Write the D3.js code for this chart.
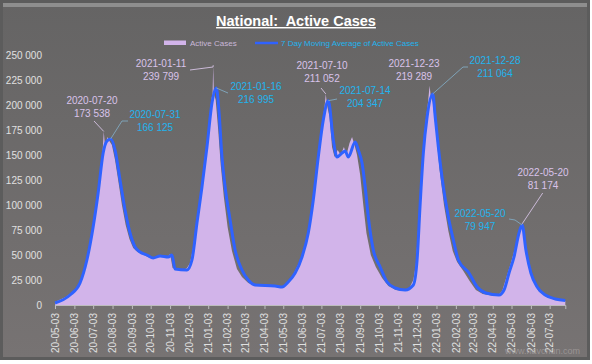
<!DOCTYPE html>
<html>
<head>
<meta charset="utf-8">
<script src="https://cdn.jsdelivr.net/npm/d3@7"></script>
<style>
  body { margin: 0; background: #fff; }
  text { font-family: "Liberation Sans", Arial, sans-serif; }
</style>
</head>
<body>
<div id="chart"></div>
<script>
// active cases (date, value)
var activeDates = ["2020-05-03","2020-05-20","2020-06-05","2020-06-15","2020-06-25","2020-07-03","2020-07-10","2020-07-15","2020-07-18","2020-07-20","2020-07-22","2020-07-26","2020-07-29","2020-08-02","2020-08-07","2020-08-12","2020-08-18","2020-08-24","2020-08-30","2020-09-05","2020-09-12","2020-09-20","2020-09-28","2020-10-06","2020-10-14","2020-10-22","2020-10-29","2020-11-03","2020-11-07","2020-11-15","2020-11-25","2020-11-30","2020-12-05","2020-12-10","2020-12-16","2020-12-22","2020-12-28","2021-01-03","2021-01-08","2021-01-10","2021-01-11","2021-01-12","2021-01-15","2021-01-19","2021-01-23","2021-01-28","2021-02-03","2021-02-10","2021-02-18","2021-02-26","2021-03-08","2021-03-20","2021-04-05","2021-04-20","2021-04-30","2021-05-08","2021-05-18","2021-05-28","2021-06-05","2021-06-12","2021-06-18","2021-06-25","2021-07-01","2021-07-05","2021-07-08","2021-07-10","2021-07-12","2021-07-16","2021-07-20","2021-07-24","2021-07-29","2021-08-03","2021-08-08","2021-08-12","2021-08-17","2021-08-21","2021-08-25","2021-08-29","2021-09-03","2021-09-08","2021-09-13","2021-09-20","2021-09-28","2021-10-08","2021-10-18","2021-10-30","2021-11-10","2021-11-20","2021-11-27","2021-12-01","2021-12-05","2021-12-10","2021-12-16","2021-12-20","2021-12-23","2021-12-25","2021-12-28","2022-01-02","2022-01-08","2022-01-15","2022-01-22","2022-01-29","2022-02-05","2022-02-15","2022-02-25","2022-03-07","2022-03-18","2022-04-01","2022-04-12","2022-04-18","2022-04-25","2022-05-02","2022-05-10","2022-05-16","2022-05-20","2022-05-24","2022-05-30","2022-06-06","2022-06-15","2022-06-28","2022-07-12","2022-07-28"]
var activeValues = [3000,8000,15000,27000,52000,82000,112000,138000,152000,173538,158000,168000,164000,160000,145000,125000,100000,80000,66000,57000,53000,51000,48000,47000,49000,50000,47000,51000,37000,35000,35000,37000,42000,58000,88000,112000,145000,172000,205000,212000,239799,212000,205000,175000,140000,108000,78000,54000,36000,28000,22000,19000,20000,19000,17000,22000,29000,42000,55000,75000,98000,135000,168000,185000,198000,211052,200000,188000,158000,148000,155000,150000,158000,150000,162000,168000,160000,150000,130000,100000,72000,50000,38000,27000,19000,15000,14000,16000,25000,40000,80000,135000,180000,200000,219289,208000,203000,175000,135000,100000,74000,54000,43000,34000,24000,15000,11000,9500,10000,14000,28000,42000,60000,76000,81174,65000,42000,25000,14000,8000,5000,4000]

// 7 day moving average
var maDates = ["2020-05-03","2020-05-27","2020-06-12","2020-06-23","2020-07-03","2020-07-11","2020-07-19","2020-07-25","2020-07-31","2020-08-07","2020-08-15","2020-08-23","2020-08-31","2020-09-08","2020-09-16","2020-09-27","2020-10-07","2020-10-18","2020-10-31","2020-11-06","2020-11-11","2020-11-30","2020-12-08","2020-12-16","2020-12-24","2021-01-01","2021-01-09","2021-01-16","2021-01-20","2021-01-25","2021-01-30","2021-02-07","2021-02-15","2021-02-26","2021-03-08","2021-03-19","2021-04-20","2021-05-01","2021-05-11","2021-05-22","2021-06-02","2021-06-12","2021-06-20","2021-06-28","2021-07-06","2021-07-14","2021-07-22","2021-07-28","2021-08-05","2021-08-10","2021-08-15","2021-08-26","2021-08-31","2021-09-06","2021-09-11","2021-09-16","2021-09-24","2021-10-05","2021-10-16","2021-10-29","2021-11-14","2021-11-27","2021-12-03","2021-12-08","2021-12-13","2021-12-19","2021-12-28","2022-01-01","2022-01-06","2022-01-14","2022-01-22","2022-01-30","2022-02-07","2022-02-24","2022-03-09","2022-03-23","2022-04-13","2022-04-21","2022-04-29","2022-05-07","2022-05-15","2022-05-20","2022-05-26","2022-06-03","2022-06-13","2022-06-26","2022-07-12","2022-07-28"]
var maValues = [2000,10000,22000,45000,78000,112000,152000,164000,166125,155000,125000,95000,72000,58000,53000,50000,47000,49000,48000,50000,36000,35000,45000,82000,118000,158000,202000,216995,195000,148000,118000,85000,55000,35000,25000,20000,19000,18000,23000,32000,48000,72000,105000,148000,185000,204347,165000,148000,152000,154000,148000,163000,155000,142000,118000,88000,55000,38000,23000,17000,15000,20000,45000,102000,152000,188000,211064,188000,158000,118000,88000,65000,45000,32000,18000,12000,10000,15000,32000,48000,72000,79947,55000,32000,18000,10000,6000,4500]

var yTicks = [0,25000,50000,75000,100000,125000,150000,175000,200000,225000,250000]

// labelled peaks: which series, which date
var notes = [
  { series: "active", date: "2020-07-20" },
  { series: "ma", date: "2020-07-31" },
  { series: "active", date: "2021-01-11" },
  { series: "ma", date: "2021-01-16" },
  { series: "active", date: "2021-07-10" },
  { series: "ma", date: "2021-07-14" },
  { series: "active", date: "2021-12-23" },
  { series: "ma", date: "2021-12-28" },
  { series: "active", date: "2022-05-20" },
  { series: "ma", date: "2022-05-20" }
]
// label placement (centre x, first line y, leader points)
var noteLayout = [
  { x: 92, y: 100, leader: [[94, 121]] },
  { x: 155, y: 114, leader: [[128, 121], [122, 121]] },
  { x: 161, y: 63, leader: [[190, 70], [213, 67]] },
  { x: 256, y: 86, leader: [[228, 93]] },
  { x: 322, y: 65, leader: [[321, 88]] },
  { x: 365, y: 90, leader: [[337, 99], [332, 100]] },
  { x: 414, y: 63, leader: null },
  { x: 495, y: 60, leader: [[468, 67], [463, 67]] },
  { x: 543, y: 172, leader: [[542.7, 193]] },
  { x: 480, y: 213, leader: [[509, 219], [515, 220]] }
]

var W = 592, H = 364
var areaColor = "#d2b4ea", lineColor = "#2f62ff"
var activeText = "#d9c3ea", maText = "#1fb4ee"

var parse = d3.timeParse("%Y-%m-%d")
var active = activeDates.map(function(d, i){ return { date: parse(d), value: activeValues[i] } })
var ma = maDates.map(function(d, i){ return { date: parse(d), value: maValues[i] } })

var loc = d3.formatLocale({ decimal: ".", thousands: " ", grouping: [3], currency: ["", ""] })
var fmt = loc.format(",")

var svg = d3.select("#chart").append("svg")
  .attr("width", W).attr("height", H)

var defs = svg.append("defs")
var grad = defs.append("linearGradient").attr("id", "bg")
  .attr("x1", 0).attr("y1", 0).attr("x2", 0).attr("y2", 1)
grad.append("stop").attr("offset", "0%").attr("stop-color", "#656464")
grad.append("stop").attr("offset", "100%").attr("stop-color", "#777373")

// frame
svg.append("rect").attr("x", 0).attr("y", 0).attr("width", 590).attr("height", 360).attr("fill", "#5c5c5c")
svg.append("rect").attr("x", 3).attr("y", 3).attr("width", 584).attr("height", 354).attr("fill", "url(#bg)")
svg.append("rect").attr("x", 3).attr("y", 3).attr("width", 584).attr("height", 4).attr("fill", "#8e8e8e")

var x = d3.scaleTime()
  .domain([parse("2020-05-03"), parse("2022-07-28")])
  .range([55, 565.3])
var y = d3.scaleLinear().domain([0, 250000]).range([305, 55])

// title
svg.append("text")
  .attr("x", 296).attr("y", 26)
  .attr("text-anchor", "middle")
  .attr("fill", "#ffffff")
  .style("font-size", "14.5px").style("font-weight", "bold")
  .style("text-decoration", "underline")
  .style("white-space", "pre")
  .text("National:  Active Cases")

// legend
svg.append("rect").attr("x", 164).attr("y", 40.5).attr("width", 22).attr("height", 4.5).attr("fill", areaColor)
svg.append("text").attr("x", 190).attr("y", 45.5).attr("fill", "#c9b8d8")
  .style("font-size", "8px").text("Active Cases")
svg.append("line").attr("x1", 255).attr("x2", 278).attr("y1", 43).attr("y2", 43)
  .attr("stroke", lineColor).attr("stroke-width", 2.5)
svg.append("text").attr("x", 281).attr("y", 45.5).attr("fill", maText)
  .style("font-size", "8px").text("7 Day Moving Average of Active Cases")

// y axis labels only
var yAxis = svg.append("g")
  .attr("transform", "translate(45,0)")
  .call(d3.axisLeft(y).tickValues(yTicks).tickFormat(fmt).tickSize(0).tickPadding(3))
yAxis.select(".domain").remove()
yAxis.selectAll("text").attr("fill", "#e0e0e0").style("font-size", "10px").style("font-family", "Liberation Sans, Arial, sans-serif")

// x axis, monthly ticks on the 3rd
var xTicks = d3.timeMonth.range(parse("2020-05-01"), parse("2022-08-01")).map(function(d){ return d3.timeDay.offset(d, 2) })
var xAxis = svg.append("g")
  .attr("transform", "translate(0,305)")
  .call(d3.axisBottom(x).tickValues(xTicks).tickFormat(d3.timeFormat("%y-%m-%d")).tickSize(4))
xAxis.select(".domain").attr("stroke", "#bdbdbd")
xAxis.selectAll("line").attr("stroke", "#bdbdbd")
xAxis.selectAll("text")
  .attr("fill", "#e0e0e0")
  .style("font-size", "10px").style("font-family", "Liberation Sans, Arial, sans-serif")
  .attr("text-anchor", "end")
  .attr("transform", "rotate(-90)")
  .attr("x", -8).attr("y", 0).attr("dy", "0.32em")

var area = d3.area()
  .x(function(d){ return x(d.date) })
  .y0(y(0))
  .y1(function(d){ return y(d.value) })

var line = d3.line()
  .x(function(d){ return x(d.date) })
  .y(function(d){ return y(d.value) })
  .curve(d3.curveMonotoneX)

svg.append("path").datum(active).attr("d", area).attr("fill", areaColor)
svg.append("path").datum(ma).attr("d", line)
  .attr("fill", "none").attr("stroke", lineColor).attr("stroke-width", 3)
  .attr("stroke-linejoin", "round")

// peak labels
notes.forEach(function(n, i){
  var src = n.series == "active" ? active : ma
  var pt = src.find(function(d){ return d3.timeFormat("%Y-%m-%d")(d.date) == n.date })
  var lay = noteLayout[i]
  var col = n.series == "active" ? activeText : maText
  var leadCol = n.series == "active" ? "#cbbad8" : "#7fa3b8"

  if (lay.leader) {
    var pts = lay.leader.concat([[x(pt.date), y(pt.value)]])
    svg.append("path")
      .attr("d", d3.line()(pts))
      .attr("fill", "none").attr("stroke", leadCol).attr("stroke-width", 1)
  }

  var t = svg.append("text")
    .attr("text-anchor", "middle")
    .attr("fill", col)
    .style("font-size", "10px")
  t.append("tspan").attr("x", lay.x).attr("y", lay.y + 4).text(n.date)
  t.append("tspan").attr("x", lay.x).attr("y", lay.y + 17).text(fmt(pt.value))
})

// watermark
svg.append("text").attr("x", 580).attr("y", 354).attr("text-anchor", "end")
  .attr("fill", "#a29d9d").attr("opacity", 0.8)
  .style("font-size", "9px").text("www.navchun.com")
</script>
</body>
</html>
